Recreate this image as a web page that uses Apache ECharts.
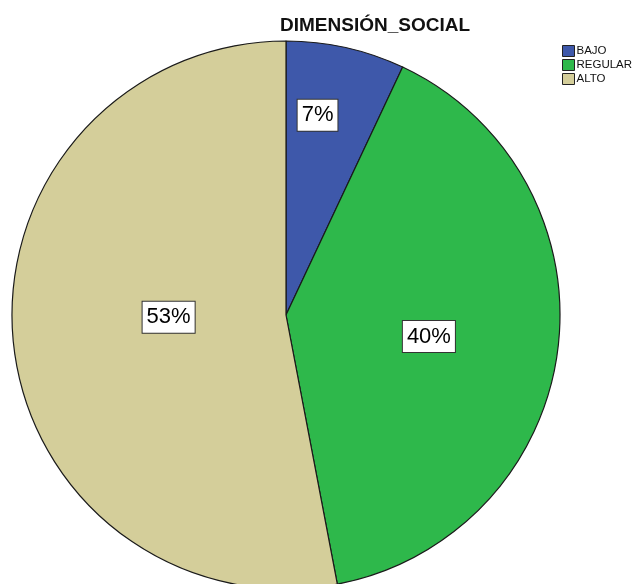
<!DOCTYPE html>
<html>
<head>
<meta charset="utf-8">
<script src="https://cdn.jsdelivr.net/npm/echarts@6/dist/echarts.min.js"></script>
<style>
  html, body { margin: 0; padding: 0; background: #ffffff; }
  #chart { width: 639px; height: 584px; }
</style>
</head>
<body>
<div id="chart"></div>
<script>
// Category names and their share (percent) of the social dimension
const categories = ['BAJO', 'REGULAR', 'ALTO'];
const percents = [7, 40, 53];
const sliceColors = ['#3e58aa', '#2eb84b', '#d4ce9a'];

// Small nudges of each percent box away from the default mid-radius spot
const labelShift = [[1, -63], [4, 4], [22, -11]];

const chart = echarts.init(document.getElementById('chart'), null, { renderer: 'canvas' });

const pieData = categories.map((name, i) => ({
  name: name,
  value: percents[i],
  itemStyle: { color: sliceColors[i] },
  label: { offset: labelShift[i] }
}));

chart.setOption({
  animation: false,
  backgroundColor: '#ffffff',
  textStyle: { fontFamily: 'Liberation Sans, Arial, sans-serif' },
  title: {
    text: 'DIMENSIÓN_SOCIAL',
    left: 280,
    top: 16,
    padding: 0,
    textStyle: {
      fontFamily: 'Liberation Sans, Arial, sans-serif',
      fontSize: 19,
      fontWeight: 'bold',
      color: '#111111',
      lineHeight: 20
    }
  },
  legend: {
    orient: 'vertical',
    left: 562,
    top: 45,
    padding: 0,
    itemWidth: 12,
    itemHeight: 11,
    itemGap: 2,
    icon: 'rect',
    selectedMode: false,
    itemStyle: { borderColor: '#222222', borderWidth: 1 },
    textStyle: {
      fontFamily: 'Liberation Sans, Arial, sans-serif',
      fontSize: 11.5,
      color: '#111111',
      lineHeight: 11,
      padding: [0, 0, 0, -3]
    },
    data: categories
  },
  series: [{
    type: 'pie',
    center: [286, 315],
    radius: [0, 274],
    startAngle: 90,
    clockwise: true,
    silent: true,
    avoidLabelOverlap: false,
    itemStyle: { borderColor: '#1a1a1a', borderWidth: 1.2 },
    emphasis: { disabled: true },
    labelLine: { show: false },
    label: {
      show: true,
      position: 'inside',
      formatter: p => p.value + '%',
      fontFamily: 'Liberation Sans, Arial, sans-serif',
      fontSize: 22,
      color: '#000000',
      backgroundColor: '#ffffff',
      borderColor: '#333333',
      borderWidth: 1,
      padding: [4, 4, 3, 4],
      lineHeight: 24
    },
    data: pieData
  }]
});
</script>
</body>
</html>
